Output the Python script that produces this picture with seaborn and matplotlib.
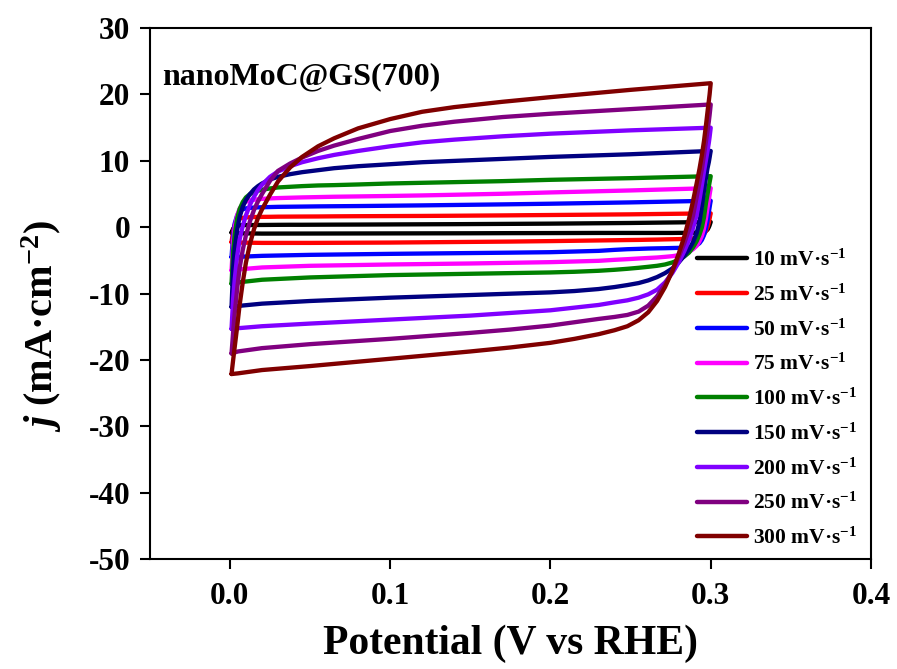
import pandas as pd
import matplotlib
matplotlib.use('Agg')
import matplotlib.pyplot as plt
import seaborn as sns

# scan rates (mV/s) and colours
rates = [10, 25, 50, 75, 100, 150, 200, 250, 300]
colors = ['#000000', '#ff0000', '#0000ff', '#ff00ff', '#008000',
          '#000080', '#8000ff', '#800080', '#800000']

# potential grids (V vs RHE) for the anodic and cathodic sweeps
fwd_x = [0.001, 0.002, 0.003, 0.0045, 0.006, 0.008, 0.01, 0.0125, 0.015, 0.0175, 0.02, 0.025,
         0.03, 0.0375, 0.045, 0.055, 0.065, 0.08, 0.1, 0.12, 0.14, 0.17, 0.2, 0.25, 0.3]
rev_x = [0.3, 0.2997, 0.2993, 0.2988, 0.298, 0.297, 0.2958, 0.2945, 0.293, 0.2912, 0.289,
         0.2865, 0.2835, 0.28, 0.276, 0.2715, 0.2665, 0.261, 0.255, 0.248, 0.24, 0.23,
         0.215, 0.2, 0.175, 0.15, 0.1, 0.05, 0.02, 0.005, 0.001]

# current density (mA/cm2)
fwd_10 = [-0.8, -0.2, 0.1, 0.25, 0.3, 0.32, 0.33, 0.34, 0.34, 0.35, 0.35, 0.36,
          0.37, 0.38, 0.38, 0.39, 0.4, 0.41, 0.43, 0.45, 0.47, 0.51, 0.55, 0.65, 0.8]
rev_10 = [0.8, 0.6, 0.3, 0.0, -0.35, -0.55, -0.68, -0.75, -0.78, -0.8, -0.82,
          -0.83, -0.84, -0.84, -0.85, -0.85, -0.85, -0.85, -0.85, -0.85, -0.85, -0.85,
          -0.86, -0.87, -0.88, -0.9, -0.92, -0.94, -0.95, -0.9, -0.8]
fwd_25 = [-2.25, -0.6, 0.4, 1.0, 1.3, 1.42, 1.48, 1.52, 1.54, 1.56, 1.57, 1.58,
          1.6, 1.61, 1.62, 1.63, 1.65, 1.67, 1.69, 1.71, 1.74, 1.79, 1.85, 1.95, 2.1]
rev_25 = [2.1, 1.8, 1.3, 0.7, 0.0, -0.6, -1.05, -1.35, -1.5, -1.6, -1.67,
          -1.72, -1.75, -1.78, -1.8, -1.82, -1.85, -1.87, -1.9, -1.92, -1.95, -1.98,
          -2.03, -2.08, -2.15, -2.2, -2.3, -2.35, -2.35, -2.3, -2.25]
fwd_50 = [-4.5, -1.2, 0.6, 1.8, 2.4, 2.7, 2.85, 2.92, 2.97, 3.0, 3.02, 3.05,
          3.08, 3.1, 3.12, 3.15, 3.17, 3.2, 3.25, 3.3, 3.36, 3.45, 3.55, 3.75, 4.0]
rev_50 = [4.0, 3.6, 3.0, 2.2, 1.0, -0.2, -1.2, -1.9, -2.4, -2.7, -2.9,
          -3.0, -3.05, -3.1, -3.12, -3.15, -3.17, -3.2, -3.25, -3.3, -3.4, -3.55,
          -3.65, -3.75, -3.82, -3.88, -4.0, -4.15, -4.3, -4.45, -4.5]
fwd_75 = [-6.5, -2.2, 0.0, 1.8, 2.8, 3.5, 3.85, 4.05, 4.15, 4.22, 4.28, 4.35,
          4.4, 4.45, 4.5, 4.55, 4.6, 4.65, 4.72, 4.8, 4.9, 5.05, 5.25, 5.55, 5.9]
rev_75 = [5.9, 5.5, 4.9, 4.1, 2.9, 1.3, -0.2, -1.3, -2.1, -2.8, -3.3,
          -3.7, -4.0, -4.2, -4.35, -4.45, -4.55, -4.62, -4.7, -4.8, -4.9, -5.05,
          -5.15, -5.25, -5.35, -5.45, -5.6, -5.8, -6.05, -6.35, -6.5]
fwd_100 = [-8.5, -3.6, -1.0, 1.3, 2.7, 3.8, 4.5, 5.0, 5.3, 5.5, 5.65, 5.85,
           6.0, 6.1, 6.2, 6.3, 6.35, 6.45, 6.6, 6.7, 6.8, 6.95, 7.15, 7.4, 7.7]
rev_100 = [7.7, 7.3, 6.8, 6.1, 5.0, 3.6, 1.5, 0.0, -1.1, -2.1, -3.0,
           -3.8, -4.4, -4.9, -5.3, -5.6, -5.8, -5.95, -6.1, -6.25, -6.4, -6.55,
           -6.7, -6.8, -6.9, -7.0, -7.2, -7.55, -7.9, -8.3, -8.5]
fwd_150 = [-12.0, -6.2, -3.2, -0.4, 1.5, 3.1, 4.1, 5.0, 5.7, 6.2, 6.6, 7.2,
           7.6, 8.0, 8.3, 8.6, 8.9, 9.2, 9.5, 9.8, 10.0, 10.3, 10.6, 11.0, 11.5]
rev_150 = [11.5, 11.1, 10.5, 9.8, 8.9, 7.4, 5.5, 3.2, 0.8, -0.9, -2.2,
           -3.3, -4.3, -5.3, -6.2, -6.9, -7.5, -8.0, -8.4, -8.7, -9.0, -9.3,
           -9.6, -9.8, -10.0, -10.2, -10.6, -11.1, -11.5, -11.85, -12.0]
fwd_200 = [-15.3, -10.8, -7.8, -4.4, -1.9, 0.2, 1.8, 3.4, 4.6, 5.6, 6.4, 7.6,
           8.4, 9.2, 9.8, 10.4, 10.9, 11.5, 12.2, 12.8, 13.2, 13.7, 14.1, 14.6, 15.0]
rev_200 = [15.0, 14.4, 13.6, 12.7, 11.5, 10.1, 8.4, 6.4, 4.2, 1.8, -0.1,
           -1.9, -3.6, -5.3, -6.9, -8.3, -9.4, -10.1, -10.6, -11.0, -11.3, -11.7,
           -12.1, -12.5, -12.9, -13.3, -13.9, -14.5, -14.9, -15.2, -15.3]
fwd_250 = [-19.0, -15.8, -12.9, -9.3, -6.2, -3.4, -1.2, 0.9, 2.6, 3.9, 5.0, 7.0,
           8.5, 9.6, 10.5, 11.5, 12.3, 13.3, 14.5, 15.3, 15.9, 16.6, 17.1, 17.8, 18.5]
rev_250 = [18.5, 17.8, 16.9, 15.9, 14.5, 12.9, 10.9, 8.8, 6.8, 4.5, 1.8,
           -0.3, -2.4, -4.5, -6.6, -8.6, -10.4, -11.8, -12.7, -13.2, -13.5, -13.8,
           -14.3, -14.8, -15.4, -15.9, -16.8, -17.6, -18.2, -18.7, -19.0]
fwd_300 = [-22.1, -20.0, -18.0, -15.0, -11.8, -8.3, -5.3, -2.5, -0.3, 1.4, 2.7, 4.9,
           6.9, 9.0, 10.6, 12.2, 13.4, 14.9, 16.3, 17.4, 18.1, 18.9, 19.6, 20.7, 21.7]
rev_300 = [21.7, 21.0, 20.0, 19.0, 17.4, 15.3, 13.0, 10.9, 8.8, 6.6, 4.0,
           1.3, -1.4, -4.0, -6.6, -9.0, -11.1, -12.8, -14.0, -14.9, -15.5, -16.1,
           -16.8, -17.4, -18.1, -18.7, -19.8, -20.9, -21.5, -22.0, -22.1]

fwd_all = [fwd_10, fwd_25, fwd_50, fwd_75, fwd_100, fwd_150, fwd_200, fwd_250, fwd_300]
rev_all = [rev_10, rev_25, rev_50, rev_75, rev_100, rev_150, rev_200, rev_250, rev_300]

# long table, one closed loop per scan rate
labels = [str(r) + ' mV·s$^{-1}$' for r in rates]
rows = []
for lab, f, b in zip(labels, fwd_all, rev_all):
    for x, j in zip(fwd_x + rev_x, f + b):
        rows.append({'E': x, 'j': j, 'rate': lab})
df = pd.DataFrame(rows)

sns.set_style('white')
plt.rcParams['font.family'] = ['Liberation Serif', 'DejaVu Serif']
plt.rcParams['font.weight'] = 'bold'
plt.rcParams['axes.unicode_minus'] = False
plt.rcParams['text.color'] = 'black'
plt.rcParams['axes.labelcolor'] = 'black'
plt.rcParams['xtick.color'] = 'black'
plt.rcParams['ytick.color'] = 'black'
plt.rcParams['mathtext.fontset'] = 'custom'
plt.rcParams['mathtext.rm'] = 'Liberation Serif:bold'
plt.rcParams['mathtext.it'] = 'Liberation Serif:italic:bold'
plt.rcParams['mathtext.bf'] = 'Liberation Serif:bold'

fig = plt.figure(figsize=(8.97, 6.69), dpi=100)
ax = fig.add_axes([0.167, 0.164, 0.804, 0.794])

sns.lineplot(data=df, x='E', y='j', hue='rate', hue_order=labels, palette=colors,
             sort=False, estimator=None, linewidth=3.1, ax=ax)
for line in ax.get_lines():
    line.set_solid_joinstyle('round')

ax.set_xlim(-0.05, 0.4)
ax.set_ylim(-50, 30)
ax.set_xticks([0.0, 0.1, 0.2, 0.3, 0.4])
ax.set_xticklabels(['0.0', '0.1', '0.2', '0.3', '0.4'])
ax.set_yticks(range(-50, 31, 10))
ax.tick_params(axis='both', direction='out', length=7, width=1.5, labelsize=22.5,
               colors='black', top=False, right=False, bottom=True, left=True)
ax.tick_params(axis='x', pad=9)
ax.tick_params(axis='y', pad=7)
for lbl in ax.get_xticklabels() + ax.get_yticklabels():
    lbl.set_fontweight('bold')
for sp in ax.spines.values():
    sp.set_linewidth(1.5)
    sp.set_color('black')

ax.set_xlabel('Potential (V vs RHE)', fontsize=30, fontweight='bold', labelpad=10)
ax.set_ylabel('$j$ (mA·cm$^{-2}$)', fontsize=29, fontweight='bold')
ax.yaxis.set_label_coords(-0.119, 0.44)

ax.text(0.017, 0.935, 'nanoMoC@GS(700)', transform=ax.transAxes, fontsize=23,
        fontweight='bold', va='top', ha='left')

handles, labs = ax.get_legend_handles_labels()
leg = ax.legend(handles, labs, loc='upper left', bbox_to_anchor=(0.759, 0.583),
                frameon=False, fontsize=15.5, handlelength=2.3, handletextpad=0.3,
                labelspacing=0.63, borderpad=0, borderaxespad=0)
for line in leg.get_lines():
    line.set_linewidth(3.2)

fig.savefig('out.png', dpi=100)
